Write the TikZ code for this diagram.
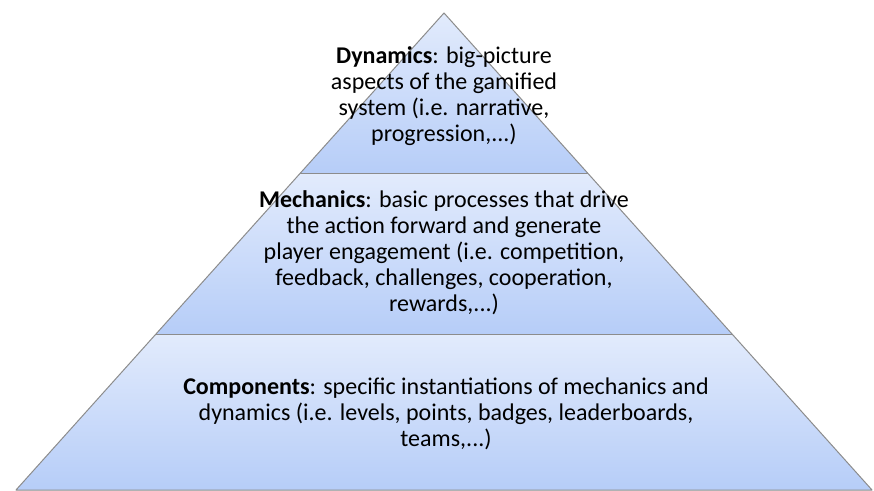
\documentclass[tikz,border=0pt]{standalone}
\usepackage{fontspec}
\setmainfont{Carlito}
\definecolor{tierTop}{RGB}{226,235,252}
\definecolor{tierBot}{RGB}{182,205,248}
\definecolor{edgeGray}{RGB}{140,140,140}
\begin{document}
\begin{tikzpicture}[x=1pt, y=1pt,
  tier/.style={top color=tierTop, bottom color=tierBot},
  edge/.style={draw=edgeGray, line width=1pt, line join=round},
  label/.style={align=center, inner sep=0pt, font=\fontsize{24}{26}\selectfont}]
  \useasboundingbox (0,0) rectangle (874,490);

  % Corners of the pyramid
  \coordinate (apex) at (444,477);
  \coordinate (l1) at (299.6,316); \coordinate (r1) at (588.4,316);
  \coordinate (l2) at (156,156);   \coordinate (r2) at (732,156);
  \coordinate (l3) at (16,0);      \coordinate (r3) at (872,0);

  % Tiers
  \shade[tier] (apex) -- (r1) -- (l1) -- cycle;
  \shade[tier] (l1) -- (r1) -- (r2) -- (l2) -- cycle;
  \shade[tier] (l2) -- (r2) -- (r3) -- (l3) -- cycle;
  \draw[edge] (apex) -- (r3) -- (l3) -- cycle;
  \draw[edge] (l1) -- (r1);
  \draw[edge] (l2) -- (r2);

  % Texts
  \node[label] (dyn) at (444,394) {\textbf{Dynamics}: big-picture\\aspects of the gamified\\system (i.e. narrative,\\progression,...)};
  \node[label] (mech) at (444,237) {\textbf{Mechanics}: basic processes that drive\\the action forward and generate\\player engagement (i.e. competition,\\feedback, challenges, cooperation,\\rewards,...)};
  \node[label] (comp) at (446,76) {\textbf{Components}: specific instantiations of mechanics and\\dynamics (i.e. levels, points, badges, leaderboards,\\teams,...)};
\end{tikzpicture}
\end{document}
